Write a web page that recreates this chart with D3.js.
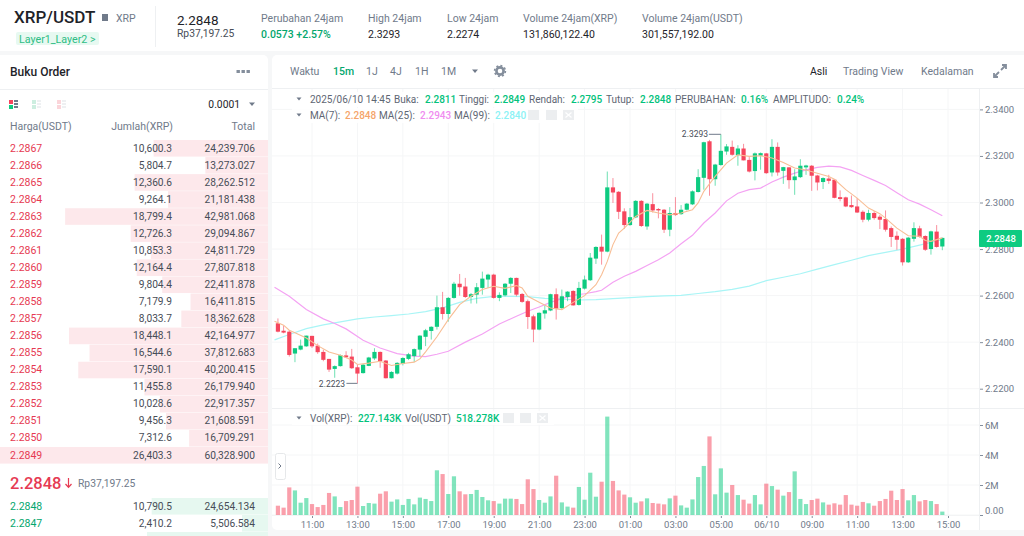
<!DOCTYPE html>
<html><head><meta charset="utf-8">
<script src="https://cdn.jsdelivr.net/npm/d3@7/dist/d3.min.js"></script>
<style>
html,body{margin:0;padding:0;background:#f6f7f8;overflow:hidden}
svg{display:block}
text{font-family:Roboto,"Noto Sans",sans-serif}
</style></head><body><svg id="c" width="1024" height="536"></svg>
<script>
const opens=[2.2481,2.2449,2.2445,2.2351,2.2368,2.2382,2.2427,2.2385,2.2358,2.2328,2.2285,2.2297,2.2343,2.2338,2.2292,2.2267,2.2298,2.2330,2.2358,2.2321,2.2245,2.2265,2.2307,2.2328,2.2340,2.2368,2.2423,2.2448,2.2466,2.2550,2.2521,2.2590,2.2651,2.2639,2.2594,2.2604,2.2633,2.2669,2.2690,2.2590,2.2601,2.2651,2.2676,2.2607,2.2576,2.2511,2.2454,2.2523,2.2536,2.2606,2.2546,2.2594,2.2620,2.2560,2.2630,2.2666,2.2759,2.2810,2.2789,2.3065,2.3046,2.2962,2.2903,2.2936,2.3007,2.2897,2.2993,2.2972,2.2969,2.2883,2.2955,2.2950,2.2969,2.2992,2.3045,2.3106,2.3263,2.3100,2.3161,2.3219,2.3239,2.3203,2.3232,2.3183,2.3135,2.3201,2.3211,2.3129,2.3239,2.3136,2.3151,2.3096,2.3109,2.3151,2.3158,2.3116,2.3088,2.3103,2.3098,2.3023,2.3022,2.2989,2.2983,2.2960,2.2926,2.2955,2.2939,2.2929,2.2890,2.2857,2.2844,2.2743,2.2844,2.2889,2.2856,2.2800,2.2875,2.2811];
const highs=[2.2502,2.2471,2.2452,2.2374,2.2411,2.2428,2.2427,2.2394,2.2368,2.2328,2.2300,2.2347,2.2361,2.2371,2.2304,2.2307,2.2337,2.2374,2.2360,2.2323,2.2275,2.2314,2.2335,2.2354,2.2373,2.2430,2.2457,2.2468,2.2600,2.2616,2.2594,2.2659,2.2693,2.2676,2.2611,2.2654,2.2703,2.2694,2.2694,2.2614,2.2654,2.2679,2.2677,2.2611,2.2583,2.2518,2.2528,2.2557,2.2608,2.2631,2.2626,2.2619,2.2623,2.2659,2.2686,2.2783,2.2812,2.2862,2.3133,2.3105,2.3049,2.2975,2.2976,2.3010,2.3010,2.2998,2.3040,2.2976,2.2972,2.2980,2.3023,2.2989,2.2998,2.3052,2.3143,2.3261,2.3269,2.3166,2.3293,2.3251,2.3266,2.3246,2.3252,2.3195,2.3215,2.3215,2.3213,2.3272,2.3258,2.3153,2.3152,2.3143,2.3186,2.3162,2.3161,2.3119,2.3108,2.3119,2.3100,2.3052,2.3025,2.3030,2.3019,2.2966,2.2969,2.2963,2.2947,2.2966,2.2897,2.2876,2.2847,2.2852,2.2915,2.2900,2.2859,2.2879,2.2903,2.2849];
const lows=[2.2442,2.2438,2.2338,2.2314,2.2365,2.2380,2.2375,2.2350,2.2318,2.2272,2.2247,2.2295,2.2332,2.2285,2.2223,2.2265,2.2297,2.2323,2.2290,2.2244,2.2244,2.2261,2.2300,2.2323,2.2315,2.2340,2.2383,2.2411,2.2454,2.2497,2.2488,2.2587,2.2600,2.2590,2.2566,2.2566,2.2604,2.2633,2.2587,2.2576,2.2597,2.2611,2.2597,2.2569,2.2457,2.2400,2.2451,2.2501,2.2533,2.2497,2.2543,2.2576,2.2557,2.2557,2.2626,2.2663,2.2736,2.2733,2.2786,2.2998,2.2929,2.2886,2.2900,2.2933,2.2895,2.2883,2.2957,2.2932,2.2869,2.2855,2.2943,2.2947,2.2966,2.2989,2.3043,2.3055,2.3029,2.3072,2.3158,2.3205,2.3201,2.3158,2.3181,2.3129,2.3095,2.3141,2.3123,2.3112,2.3115,2.3080,2.3059,2.3033,2.3105,2.3119,2.3050,2.3052,2.3058,2.3080,2.3018,2.3005,2.2980,2.2977,2.2955,2.2915,2.2919,2.2926,2.2886,2.2875,2.2809,2.2797,2.2729,2.2740,2.2832,2.2849,2.2792,2.2776,2.2806,2.2795];
const closes=[2.2445,2.2441,2.2345,2.2374,2.2385,2.2428,2.2382,2.2357,2.2324,2.2282,2.2297,2.2344,2.2335,2.2288,2.2265,2.2303,2.2334,2.2358,2.2318,2.2245,2.2272,2.2311,2.2332,2.2348,2.2370,2.2428,2.2451,2.2466,2.2550,2.2521,2.2590,2.2651,2.2636,2.2594,2.2606,2.2636,2.2673,2.2690,2.2590,2.2603,2.2651,2.2676,2.2604,2.2573,2.2508,2.2454,2.2526,2.2537,2.2606,2.2544,2.2597,2.2617,2.2558,2.2633,2.2669,2.2763,2.2809,2.2789,2.3065,2.3043,2.2960,2.2903,2.2937,2.3007,2.2899,2.2995,2.2966,2.2966,2.2883,2.2955,2.2946,2.2969,2.2995,2.3048,2.3109,2.3259,2.3100,2.3163,2.3222,2.3241,2.3205,2.3232,2.3181,2.3133,2.3211,2.3212,2.3126,2.3239,2.3129,2.3152,2.3096,2.3112,2.3158,2.3159,2.3115,2.3086,2.3105,2.3093,2.3020,2.3015,2.2983,2.2980,2.2957,2.2926,2.2955,2.2933,2.2926,2.2883,2.2852,2.2840,2.2743,2.2849,2.2890,2.2852,2.2797,2.2876,2.2809,2.2848];
const volumes=[0.62,0.49,1.84,1.64,0.82,1.13,0.73,0.53,0.67,1.47,1.24,0.53,0.93,1.0,1.89,0.6,0.8,0.76,1.42,1.58,0.89,1.04,0.67,1.07,0.71,1.16,1.07,0.93,2.98,2.73,1.4,2.58,1.58,1.38,1.4,1.67,1.2,0.98,0.93,0.76,1.09,1.09,1.07,0.73,2.38,1.73,1.0,0.82,1.24,2.62,0.84,0.56,0.49,1.87,1.02,2.82,1.22,2.22,6.56,2.27,1.64,1.36,1.18,0.82,0.91,1.11,0.8,0.76,0.71,1.11,1.29,0.64,0.49,1.04,2.53,3.27,5.24,1.38,3.11,1.49,2.0,1.33,1.02,0.76,1.33,0.71,2.09,1.93,1.69,1.29,1.53,2.91,1.07,0.73,1.0,1.09,0.84,0.69,0.78,0.69,1.33,0.69,0.62,0.87,0.78,0.62,0.93,1.07,1.62,1.0,1.73,0.98,1.33,0.91,1.0,0.93,0.73,0.227];
const ma7Idx=[-0.6,1,2,3,5,7,9,11,13,14,16,18,20,22,24,25,26,28,30,32,34,36,38,40,42,43,44,46,48,50,52,54,56,57,58,59,60,61,63,65,67,69,71,73,74,75,77,79,81,83,85,87,89,91,93,95,97,98,100,102,104,106,107,109,111,113,114,115,117];
const ma7=[2.2490,2.2473,2.2451,2.2440,2.2418,2.2385,2.2358,2.2344,2.2323,2.2304,2.2310,2.2318,2.2300,2.2308,2.2314,2.2328,2.2358,2.2423,2.2497,2.2561,2.2597,2.2626,2.2640,2.2631,2.2643,2.2633,2.2597,2.2571,2.2547,2.2540,2.2571,2.2600,2.2647,2.2690,2.2747,2.2819,2.2869,2.2890,2.2940,2.2966,2.2955,2.2947,2.2955,2.2969,2.2998,2.3048,2.3112,2.3169,2.3205,2.3198,2.3201,2.3191,2.3172,2.3148,2.3140,2.3126,2.3112,2.3100,2.3055,2.3019,2.2976,2.2952,2.2933,2.2890,2.2857,2.2855,2.2837,2.2833,2.2848];
const ma25Idx=[-0.6,2,5,8,10,12,15,18,21,24,26,28,30,33,36,39,42,44,46,48,50,52,54,56,57,59,61,63,65,67,69,71,73,75,77,79,81,83,85,87,89,91,93,95,97,99,101,103,105,107,109,111,113,115,117];
const ma25=[2.2636,2.2597,2.2540,2.2500,2.2480,2.2457,2.2408,2.2375,2.2351,2.2340,2.2338,2.2348,2.2361,2.2400,2.2435,2.2478,2.2511,2.2533,2.2551,2.2571,2.2587,2.2601,2.2608,2.2617,2.2623,2.2657,2.2683,2.2704,2.2729,2.2754,2.2783,2.2823,2.2859,2.2912,2.2955,2.3007,2.3040,2.3055,2.3062,2.3088,2.3109,2.3126,2.3140,2.3151,2.3156,2.3153,2.3138,2.3116,2.3095,2.3073,2.3042,2.3012,2.2993,2.2969,2.2943];
const ma99Idx=[-0.6,2,5,8,11,14,17,20,23,26,29,32,35,38,41,44,47,50,53,56,59,62,65,68,71,74,77,80,83,86,89,92,95,98,101,104,107,110,113,115,117];
const ma99=[2.2410,2.2433,2.2458,2.2474,2.2487,2.2500,2.2508,2.2514,2.2521,2.2531,2.2547,2.2571,2.2588,2.2597,2.2597,2.2596,2.2588,2.2585,2.2581,2.2583,2.2587,2.2591,2.2596,2.2599,2.2601,2.2609,2.2617,2.2627,2.2641,2.2664,2.2679,2.2694,2.2714,2.2733,2.2752,2.2772,2.2786,2.2800,2.2817,2.2829,2.2840];
const priceTicks=[2.34,2.32,2.30,2.28,2.26,2.24,2.22];
const volTicks=[0,2,4,6];
const volTickLabels=["0.00","2M","4M","6M"];
const timeTickIdx=[6,14,22,30,38,46,54,62,70,78,86,94,102,110,118];
const timeTickLabels=["11:00","13:00","15:00","17:00","19:00","21:00","23:00","01:00","03:00","05:00","06/10","09:00","11:00","13:00","15:00"];
const askPrices=["2.2867","2.2866","2.2865","2.2864","2.2863","2.2862","2.2861","2.2860","2.2859","2.2858","2.2857","2.2856","2.2855","2.2854","2.2853","2.2852","2.2851","2.2850","2.2849"];
const askAmounts=[10600.3,5804.7,12360.6,9264.1,18799.4,12726.3,10853.3,12164.4,9804.4,7179.9,8033.7,18448.1,16544.6,17590.1,11455.8,10028.6,9456.3,7312.6,26403.3];
const askTotals=[24239.706,13273.027,28262.512,21181.438,42981.068,29094.867,24811.729,27807.818,22411.878,16411.815,18362.628,42164.977,37812.683,40200.415,26179.940,22917.357,21608.591,16709.291,60328.900];
const bidPrices=["2.2848","2.2847"];
const bidAmounts=[10790.5,2410.2];
const bidTotals=[24654.134,5506.584,25640];

const GREEN="#0ecb81",RED="#f6465d",TXT="#1e2329",GRAY="#707a8a",GRID="#f5f6f7";
const svg=d3.select("#c");
function txt(x,y,s,o={}){return svg.append("text").attr("x",x).attr("y",y).attr("dominant-baseline","central").attr("text-anchor",o.a||"start").attr("font-size",o.s||10.5).attr("font-weight",o.w||400).attr("fill",o.c||GRAY).text(s);}
// panels
svg.append("rect").attr("x",0).attr("y",0).attr("width",1024).attr("height",51).attr("fill","#fff");
svg.append("rect").attr("x",-6).attr("y",55).attr("width",274).attr("height",490).attr("rx",5).attr("fill","#fff");
svg.append("rect").attr("x",272).attr("y",55).attr("width",746).attr("height",475).attr("rx",5).attr("fill","#fff");
svg.append("rect").attr("x",1000).attr("y",55).attr("width",24).attr("height",475).attr("fill","#fff");
// header
txt(14,17,"XRP/USDT",{s:17,w:500,c:TXT});
svg.append("rect").attr("x",102).attr("y",14).attr("width",6).attr("height",7).attr("fill","#707a8a");
txt(116,18,"XRP",{s:10.5});
svg.append("rect").attr("x",16).attr("y",32).attr("width",83).attr("height",13).attr("rx",2).attr("fill","#e7f9f1");
txt(19,39,"Layer1_Layer2 >",{s:10.7,c:"#2ebd85"});
svg.append("line").attr("x1",155.5).attr("x2",155.5).attr("y1",6).attr("y2",47).attr("stroke","#eef0f2");
txt(177,20,"2.2848",{s:13.5,c:TXT});
txt(177,33,"Rp37,197.25",{s:10.3,c:"#474d57"});
[[261,"Perubahan 24jam"],[368,"High 24jam"],[447,"Low 24jam"],[523,"Volume 24jam(XRP)"],[642,"Volume 24jam(USDT)"]].forEach(d=>txt(d[0],18,d[1],{s:10.5}));
txt(261,34,"0.0573 +2.57%",{s:10.5,c:"#03a66d",w:500});
[[368,"2.3293"],[447,"2.2274"],[523,"131,860,122.40"],[642,"301,557,192.00"]].forEach(d=>txt(d[0],34,d[1],{s:10.5,c:TXT}));
// order book head
txt(10,72,"Buku Order",{s:12,w:500,c:TXT});
[238,243,248].forEach(x=>svg.append("rect").attr("x",x-1.5).attr("y",70).attr("width",3.4).attr("height",3).attr("fill","#848e9c"));
svg.append("line").attr("x1",0).attr("x2",268).attr("y1",89.5).attr("y2",89.5).attr("stroke","#eef0f2");
[[9,RED,GREEN],[32,"#f1f2f4","#cdeee0"],[57,"#f1f2f4","#fbd5da"]].forEach((d,i)=>{
  svg.append("rect").attr("x",d[0]).attr("y",100).attr("width",4).attr("height",4).attr("fill",i==0?RED:d[2]);
  svg.append("rect").attr("x",d[0]).attr("y",105).attr("width",4).attr("height",4).attr("fill",i==0?GREEN:d[2]);
  [100,103,106].forEach(y=>svg.append("rect").attr("x",d[0]+5).attr("y",y).attr("width",4).attr("height",2).attr("fill",i==0?"#707a8a":"#eef0f2"));
});
txt(240,104,"0.0001",{s:10.3,a:"end",c:TXT});
svg.append("path").attr("d","M249 102.5h6l-3 3.5z").attr("fill","#707a8a");
txt(10,126,"Harga(USDT)",{s:10.5});txt(173,126,"Jumlah(XRP)",{s:10.5,a:"end"});txt(255,126,"Total",{s:10.5,a:"end"});
// order book
const depth=d3.scaleLinear().domain([0,56780]).range([0,268]).clamp(true);
const rowY=d3.scaleLinear().domain([0,18]).range([148,455]);
const fAmt=d3.format(",.1f"),fTot=d3.format(",.3f");
svg.append("g").selectAll("rect").data(askTotals).join("rect").attr("x",d=>268-depth(d)).attr("y",(d,i)=>rowY(i)-8).attr("width",d=>depth(d)).attr("height",16.6).attr("fill","#fde8eb");
askPrices.forEach((p,i)=>{const y=rowY(i);txt(10,y,p,{s:10.5,c:"#e63a52"});txt(172,y,fAmt(askAmounts[i]),{s:10.2,c:"#474d57",a:"end"});txt(255,y,fTot(askTotals[i]),{s:10.2,c:"#474d57",a:"end"});});
txt(10,483,"2.2848",{s:16.5,w:500,c:"#e63a52"});
svg.append("path").attr("d","M68.5 478v9M65.5 484l3 3.4 3-3.4").attr("fill","none").attr("stroke","#e63a52").attr("stroke-width",1.2);
txt(78,483,"Rp37,197.25",{s:10.3});
const bidY=d3.scaleLinear().domain([0,1]).range([506,523]);
svg.append("g").selectAll("rect").data(bidTotals).join("rect").attr("x",d=>268-depth(d)).attr("y",(d,i)=>bidY(i)-8).attr("width",d=>depth(d)).attr("height",16.6).attr("fill","#e6f8f0");
bidPrices.forEach((p,i)=>{const y=bidY(i);txt(10,y,p,{s:10.5,c:"#03a66d"});txt(172,y,fAmt(bidAmounts[i]),{s:10.2,c:"#474d57",a:"end"});txt(255,y,fTot(bidTotals[i]),{s:10.2,c:"#474d57",a:"end"});});
// toolbar
txt(290,71,"Waktu",{s:10.5});txt(333,71,"15m",{s:10.5,c:"#03a66d",w:500});
[[366,"1J"],[390,"4J"],[415,"1H"],[441,"1M"]].forEach(d=>txt(d[0],71,d[1],{s:10.5}));
svg.append("path").attr("d","M472 69.5h6l-3 3.5z").attr("fill","#707a8a");
svg.append("circle").attr("cx",500).attr("cy",71).attr("r",3.6).attr("fill","none").attr("stroke","#848e9c").attr("stroke-width",2.6);
svg.append("circle").attr("cx",500).attr("cy",71).attr("r",5.4).attr("fill","none").attr("stroke","#848e9c").attr("stroke-width",1.6).attr("stroke-dasharray","2 2.2");
txt(810,71,"Asli",{s:10.5,c:TXT});txt(843,71,"Trading View",{s:10.5});txt(921,71,"Kedalaman",{s:10.5});
svg.append("path").attr("d","M994 77l5-5M1001 70l5-5M1002 65h4v4M994 73v4h4").attr("fill","none").attr("stroke","#848e9c").attr("stroke-width",1.8);
svg.append("line").attr("x1",272).attr("x2",1024).attr("y1",88.5).attr("y2",88.5).attr("stroke","#eef0f2");
// scales
const x=d3.scaleLinear().domain([6,118]).range([312,948]);
const y=d3.scaleLinear().domain([2.22,2.34]).range([388.7,109.4]);
const yv=d3.scaleLinear().domain([0,6]).range([515,425]);
const bw=4.2;
// grid
const grid=svg.append("g").attr("stroke",GRID);
grid.selectAll("line.v").data(timeTickIdx).join("line").attr("x1",d=>x(d)).attr("x2",d=>x(d)).attr("y1",89).attr("y2",515);
grid.selectAll("line.h").data(priceTicks).join("line").attr("class","h").attr("x1",272).attr("x2",979).attr("y1",d=>y(d)).attr("y2",d=>y(d));
grid.selectAll("line.w").data(volTicks).join("line").attr("class","w").attr("x1",272).attr("x2",979).attr("y1",d=>yv(d)).attr("y2",d=>yv(d));
svg.append("line").attr("x1",272).attr("x2",1024).attr("y1",408.5).attr("y2",408.5).attr("stroke","#eef0f2");
// MA under candles
svg.append("clipPath").attr("id","pc").append("rect").attr("x",274).attr("y",89).attr("width",705).attr("height",320);
const line=d3.line().x(d=>x(d[0])).y(d=>y(d[1]));
[[ma99Idx,ma99,"#a9f5f6"],[ma25Idx,ma25,"#f4a3f3"]].forEach(m=>{
  svg.append("path").datum(m[0].map((v,i)=>[v,m[1][i]])).attr("d",line).attr("fill","none").attr("stroke",m[2]).attr("stroke-width",1.2).attr("clip-path","url(#pc)");
});
// candles
const plot=svg.append("g");
const idx=d3.range(opens.length);
const col=i=>closes[i]>=opens[i]?GREEN:RED;
plot.selectAll("line.w").data(idx).join("line").attr("class","w").attr("x1",i=>x(i)).attr("x2",i=>x(i)).attr("y1",i=>y(highs[i])).attr("y2",i=>y(lows[i])).attr("stroke",col).attr("stroke-width",1).attr("stroke-opacity",.6);
plot.selectAll("rect.b").data(idx).join("rect").attr("class","b").attr("x",i=>x(i)-bw/2).attr("width",bw).attr("y",i=>y(Math.max(opens[i],closes[i]))).attr("height",i=>Math.max(1,Math.abs(y(opens[i])-y(closes[i])))).attr("fill",col);
svg.append("path").datum(ma7Idx.map((v,i)=>[v,ma7[i]])).attr("d",line).attr("fill","none").attr("stroke","#f8be95").attr("stroke-width",1.1).attr("clip-path","url(#pc)");
// high/low marks
txt(708,134,"2.3293",{s:8.5,a:"end",c:"#474d57"});
svg.append("line").attr("x1",x(78)-12).attr("x2",x(78)).attr("y1",y(2.3293)).attr("y2",y(2.3293)).attr("stroke","#707a8a");
txt(345,384,"2.2223",{s:8.5,a:"end",c:"#474d57"});
svg.append("line").attr("x1",x(14)-11).attr("x2",x(14)).attr("y1",y(2.2223)).attr("y2",y(2.2223)).attr("stroke","#707a8a");
// volume
svg.append("g").selectAll("rect").data(idx).join("rect").attr("x",i=>x(i)-bw/2).attr("width",bw).attr("y",i=>yv(volumes[i])).attr("height",i=>yv(0)-yv(volumes[i])).attr("fill",col).attr("fill-opacity",.52);
// axes
function style(g){g.select(".domain").remove();g.selectAll(".tick line").attr("stroke","#848e9c");g.selectAll(".tick text").attr("fill",GRAY).attr("font-size",9.5).attr("font-family","Roboto");}
const ax1=svg.append("g").attr("transform","translate(979,0)").call(d3.axisRight(y).tickValues(priceTicks).tickFormat(d3.format(".4f")).tickSize(4).tickPadding(2));style(ax1);
const ax2=svg.append("g").attr("transform","translate(979,0)").call(d3.axisRight(yv).tickValues(volTicks).tickFormat((d,i)=>volTickLabels[i]).tickSize(4).tickPadding(2));style(ax2);
ax2.selectAll(".tick text").filter(d=>d===0).attr("dy","-0.2em");
const ax3=svg.append("g").attr("transform","translate(0,515)").call(d3.axisBottom(x).tickValues(timeTickIdx).tickFormat((d,i)=>timeTickLabels[i]).tickSize(3).tickPadding(3));style(ax3);
svg.append("line").attr("x1",979.5).attr("x2",979.5).attr("y1",89).attr("y2",530).attr("stroke","#eef0f2");
svg.append("line").attr("x1",272).attr("x2",979).attr("y1",515.5).attr("y2",515.5).attr("stroke","#f3f4f5");
// last price tag
svg.append("rect").attr("x",979).attr("y",230).attr("width",43).attr("height",17).attr("rx",1).attr("fill",GREEN);
txt(1001,238.7,"2.2848",{s:9.5,w:500,c:"#fff",a:"middle"});
// legends
[[292,92,578,15],[292,108,286,15],[292,411,262,14]].forEach(r=>svg.append("rect").attr("x",r[0]).attr("y",r[1]).attr("width",r[2]).attr("height",r[3]).attr("fill","#fff").attr("fill-opacity",.85));
const vc="#03c27c";
svg.append("path").attr("d","M296.5 97.5h5l-2.5 3z").attr("fill","#707a8a");
[[310,"2025/06/10 14:45"],[394,"Buka:"],[459,"Tinggi:"],[529,"Rendah:"],[606,"Tutup:"],[675,"PERUBAHAN:"],[773,"AMPLITUDO:"]].forEach(d=>txt(d[0],99,d[1],{s:10,c:"#5e6673"}));
[[425,"2.2811"],[494,"2.2849"],[571,"2.2795"],[640,"2.2848"],[741,"0.16%"],[837,"0.24%"]].forEach(d=>txt(d[0],99,d[1],{s:10,c:vc,w:500}));
svg.append("path").attr("d","M296.5 113.5h5l-2.5 3z").attr("fill","#707a8a");
[[310,"MA(7):"],[379,"MA(25):"],[454,"MA(99):"]].forEach(d=>txt(d[0],115,d[1],{s:10,c:"#5e6673"}));
[[345,"2.2848","#f5a56b"],[420,"2.2943","#f08cf0"],[495,"2.2840","#8cf2f5"]].forEach(d=>txt(d[0],115,d[1],{s:10,c:d[2],w:500}));
[528,546,563].forEach(x0=>svg.append("rect").attr("x",x0).attr("y",110).attr("width",11).attr("height",10).attr("fill","#eceef0"));
svg.append("path").attr("d","M565.5 112.5l6 5M571.5 112.5l-6 5").attr("stroke","#fff").attr("stroke-width",1.2);
svg.append("path").attr("d","M296.5 416.5h5l-2.5 3z").attr("fill","#707a8a");
txt(310,418,"Vol(XRP):",{s:10,c:"#5e6673"});txt(358,418,"227.143K",{s:10,c:vc,w:500});
txt(405,418,"Vol(USDT)",{s:10,c:"#5e6673"});txt(456,418,"518.278K",{s:10,c:vc,w:500});
[503,520,537].forEach(x0=>svg.append("rect").attr("x",x0).attr("y",413).attr("width",11).attr("height",10).attr("fill","#eceef0"));
svg.append("path").attr("d","M539.5 415.5l6 5M545.5 415.5l-6 5").attr("stroke","#fff").attr("stroke-width",1.2);
// handle
svg.append("rect").attr("x",275.5).attr("y",453.5).attr("width",10).attr("height",26).attr("rx",2).attr("fill","#fff").attr("stroke","#e6e8ea");
svg.append("path").attr("d","M278.5 463.5l2.5 2.5-2.5 2.5").attr("fill","none").attr("stroke","#707a8a");
</script></body></html>
